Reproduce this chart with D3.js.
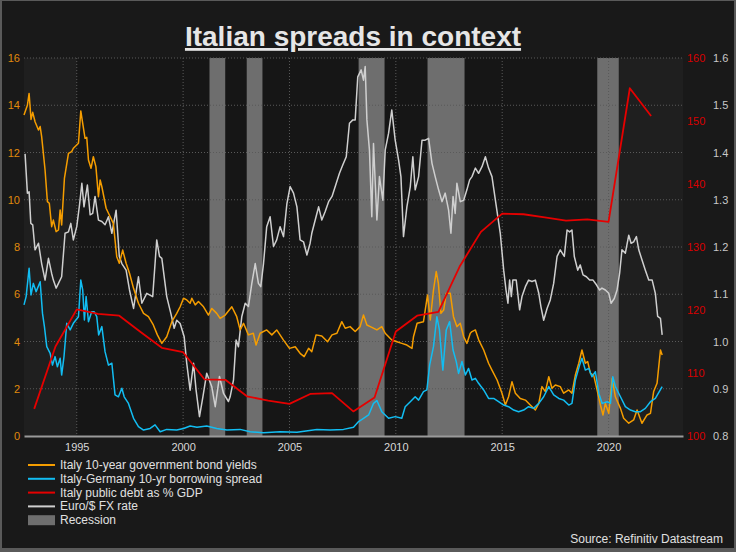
<!DOCTYPE html>
<html><head><meta charset="utf-8">
<script src="https://cdn.jsdelivr.net/npm/d3@7"></script>
<style>
html,body{margin:0;padding:0;background:#191919;}
svg{display:block;font-family:"Liberation Sans",Arial,sans-serif;}
</style></head>
<body><svg id="c" width="736" height="552"></svg>
<script>
// ---- DATA ----
const yearTicks = [1995, 2000, 2005, 2010, 2015, 2020];
const leftTicks = [0, 2, 4, 6, 8, 10, 12, 14, 16];
const debtTicks = [100, 110, 120, 130, 140, 150, 160];
const fxTicks = [0.8, 0.9, 1.0, 1.1, 1.2, 1.3, 1.4, 1.5, 1.6];
const recessions = [[2001.24, 2001.98], [2002.99, 2003.73], [2008.25, 2009.47], [2011.49, 2013.23], [2019.47, 2020.48]];

const yieldData = [[1992.52,13.59],[1992.68,14.0],[1992.76,14.5],[1992.85,13.4],[1992.93,13.7],[1993.04,13.3],[1993.2,12.95],[1993.28,13.1],[1993.35,12.67],[1993.51,11.26],[1993.62,9.92],[1993.71,9.85],[1993.82,8.86],[1993.9,9.14],[1994.03,8.65],[1994.14,8.72],[1994.22,9.57],[1994.29,8.93],[1994.42,10.9],[1994.61,11.96],[1994.76,12.04],[1994.84,12.18],[1995.08,12.39],[1995.19,13.76],[1995.28,13.23],[1995.39,12.6],[1995.47,12.64],[1995.55,11.68],[1995.67,11.33],[1995.78,11.82],[1995.9,11.4],[1996.02,10.13],[1996.1,10.84],[1996.18,10.55],[1996.38,9.64],[1996.57,9.28],[1996.72,9.0],[1996.88,7.59],[1997.0,7.31],[1997.16,7.87],[1997.32,7.31],[1997.48,6.89],[1997.67,6.25],[1997.9,5.62],[1998.14,5.19],[1998.37,5.05],[1998.6,4.7],[1998.79,4.28],[1999.0,3.92],[1999.23,4.2],[1999.47,4.84],[1999.7,5.19],[1999.86,5.47],[2000.02,5.83],[2000.17,5.76],[2000.33,5.62],[2000.41,5.83],[2000.57,5.55],[2000.72,5.69],[2000.96,5.47],[2001.19,5.12],[2001.35,5.4],[2001.58,5.19],[2001.74,4.98],[2001.98,5.12],[2002.29,5.47],[2002.52,5.05],[2002.68,4.49],[2002.84,4.77],[2003.07,4.28],[2003.3,4.35],[2003.43,3.85],[2003.62,4.35],[2003.93,4.49],[2004.17,4.28],[2004.4,4.49],[2004.72,4.06],[2005.0,3.71],[2005.27,3.78],[2005.5,3.5],[2005.69,3.36],[2005.9,3.71],[2006.05,3.57],[2006.25,4.28],[2006.52,4.23],[2006.79,3.99],[2007.0,4.28],[2007.23,4.35],[2007.46,4.84],[2007.62,4.56],[2007.85,4.63],[2008.09,4.42],[2008.32,4.63],[2008.48,5.12],[2008.64,4.7],[2008.8,4.63],[2009.11,4.49],[2009.34,4.63],[2009.5,4.35],[2009.81,4.06],[2010.05,3.99],[2010.28,3.92],[2010.52,3.85],[2010.76,3.71],[2010.83,4.2],[2011.0,4.77],[2011.3,4.84],[2011.49,5.97],[2011.62,4.91],[2011.77,6.18],[2011.9,6.96],[2012.0,6.46],[2012.12,5.19],[2012.25,5.33],[2012.37,6.04],[2012.56,6.04],[2012.71,5.05],[2012.87,4.63],[2013.03,4.77],[2013.19,4.2],[2013.34,3.92],[2013.5,4.35],[2013.58,4.42],[2013.74,4.49],[2013.9,4.06],[2014.13,3.64],[2014.36,3.08],[2014.52,2.79],[2014.76,2.37],[2014.99,1.81],[2015.15,1.31],[2015.3,1.66],[2015.46,2.3],[2015.62,1.81],[2015.85,1.59],[2016.09,1.52],[2016.32,1.31],[2016.56,1.1],[2016.72,1.38],[2016.87,2.09],[2017.03,1.88],[2017.19,2.51],[2017.34,2.02],[2017.5,2.16],[2017.73,2.09],[2017.89,1.81],[2018.13,1.95],[2018.28,1.81],[2018.44,2.58],[2018.6,3.08],[2018.75,3.64],[2018.91,3.08],[2019.02,3.15],[2019.15,2.65],[2019.3,2.58],[2019.46,1.95],[2019.62,1.31],[2019.74,0.89],[2019.85,1.38],[2020.01,0.96],[2020.17,2.44],[2020.32,1.66],[2020.56,1.17],[2020.71,0.75],[2020.95,0.54],[2021.18,0.68],[2021.34,1.1],[2021.57,0.54],[2021.81,0.89],[2021.97,0.96],[2022.12,1.88],[2022.28,2.23],[2022.44,3.64],[2022.52,3.43]];

const spreadData = [[1992.52,5.55],[1992.62,5.9],[1992.76,7.1],[1992.85,5.97],[1992.96,6.46],[1993.09,6.11],[1993.28,6.53],[1993.39,5.19],[1993.48,4.63],[1993.59,3.78],[1993.75,3.5],[1993.86,3.0],[1993.98,3.36],[1994.09,2.93],[1994.22,3.29],[1994.29,2.58],[1994.4,3.36],[1994.53,4.77],[1994.69,4.49],[1994.84,4.77],[1995.08,5.05],[1995.19,6.6],[1995.28,6.18],[1995.36,4.91],[1995.44,5.9],[1995.55,4.84],[1995.7,5.26],[1995.82,5.26],[1995.94,5.05],[1996.03,4.28],[1996.18,4.63],[1996.33,3.57],[1996.49,3.0],[1996.65,3.08],[1996.8,1.74],[1996.96,1.66],[1997.12,2.02],[1997.23,1.66],[1997.43,1.38],[1997.67,0.75],[1997.9,0.4],[1998.14,0.25],[1998.45,0.32],[1998.68,0.47],[1998.92,0.18],[1999.23,0.28],[1999.7,0.25],[2000.02,0.32],[2000.33,0.42],[2000.65,0.37],[2001.11,0.42],[2001.58,0.32],[2002.06,0.25],[2002.68,0.28],[2003.15,0.18],[2003.78,0.14],[2004.56,0.18],[2005.35,0.16],[2006.29,0.28],[2006.91,0.25],[2007.54,0.28],[2008.01,0.37],[2008.25,0.61],[2008.48,0.75],[2008.72,0.89],[2008.95,1.38],[2009.11,1.5],[2009.34,1.03],[2009.66,0.75],[2009.97,0.82],[2010.28,0.75],[2010.44,1.24],[2010.68,1.45],[2010.91,1.66],[2011.07,1.52],[2011.3,1.88],[2011.46,1.95],[2011.59,3.0],[2011.77,3.78],[2011.93,5.05],[2012.05,4.49],[2012.21,2.79],[2012.37,4.49],[2012.53,4.84],[2012.69,3.64],[2012.84,3.15],[2012.95,2.65],[2013.11,3.15],[2013.27,2.58],[2013.42,2.86],[2013.58,2.37],[2013.74,2.44],[2013.89,2.23],[2014.13,1.95],[2014.36,1.59],[2014.6,1.59],[2014.83,1.45],[2015.07,1.31],[2015.3,1.24],[2015.54,1.1],[2015.77,1.03],[2016.01,1.1],[2016.24,1.24],[2016.48,1.17],[2016.72,1.38],[2016.95,1.66],[2017.19,2.09],[2017.42,1.74],[2017.66,1.59],[2017.89,1.52],[2018.13,1.31],[2018.28,1.38],[2018.44,2.37],[2018.64,3.0],[2018.75,3.29],[2018.91,2.79],[2019.07,2.86],[2019.22,2.51],[2019.38,2.72],[2019.54,1.81],[2019.7,1.38],[2019.93,1.45],[2020.09,1.38],[2020.2,2.51],[2020.32,2.09],[2020.56,1.66],[2020.79,1.24],[2021.03,1.1],[2021.26,1.03],[2021.5,1.03],[2021.73,1.17],[2021.97,1.45],[2022.2,1.59],[2022.52,2.09]];

const debtData = [[1993,104.3],[1994,114.2],[1995,120.1],[1996,119.4],[1997,119.1],[1998,116.5],[1999,114.0],[2000,113.3],[2001,109.0],[2002,108.9],[2003,106.3],[2004,105.6],[2005,105.1],[2006,106.7],[2007,106.8],[2008,103.9],[2009,106.1],[2010,116.6],[2011,119.1],[2012,119.7],[2013,126.9],[2014,132.4],[2015,135.3],[2016,135.2],[2017,134.7],[2018,134.2],[2019,134.4],[2020,134.0],[2021,155.2],[2022,150.8]];

const fxData = [[1992.57,1.397],[1992.68,1.314],[1992.76,1.317],[1992.84,1.25],[1992.93,1.247],[1993.04,1.194],[1993.2,1.208],[1993.35,1.165],[1993.51,1.13],[1993.67,1.176],[1993.82,1.144],[1993.9,1.13],[1994.03,1.113],[1994.14,1.123],[1994.29,1.137],[1994.45,1.229],[1994.61,1.232],[1994.72,1.25],[1994.84,1.215],[1995.0,1.243],[1995.13,1.289],[1995.24,1.335],[1995.34,1.285],[1995.5,1.331],[1995.63,1.268],[1995.75,1.271],[1995.86,1.307],[1996.02,1.257],[1996.18,1.254],[1996.33,1.247],[1996.49,1.264],[1996.65,1.229],[1996.85,1.278],[1997.0,1.18],[1997.12,1.165],[1997.32,1.151],[1997.48,1.109],[1997.67,1.07],[1997.9,1.137],[1998.06,1.081],[1998.29,1.102],[1998.57,1.095],[1998.76,1.215],[1998.89,1.18],[1999.0,1.176],[1999.23,1.095],[1999.42,1.06],[1999.58,1.028],[1999.7,1.045],[1999.86,1.038],[2000.05,1.01],[2000.17,0.954],[2000.33,0.897],[2000.49,0.954],[2000.61,0.897],[2000.77,0.841],[2000.93,0.883],[2001.11,0.933],[2001.35,0.904],[2001.51,0.862],[2001.71,0.926],[2001.9,0.89],[2002.13,0.873],[2002.21,0.883],[2002.37,0.919],[2002.49,1.003],[2002.6,0.989],[2002.76,1.053],[2002.92,1.081],[2003.07,1.074],[2003.23,1.123],[2003.39,1.165],[2003.54,1.123],[2003.65,1.116],[2003.78,1.165],[2003.93,1.243],[2004.09,1.264],[2004.25,1.201],[2004.4,1.215],[2004.56,1.243],[2004.72,1.222],[2004.88,1.292],[2005.03,1.328],[2005.19,1.314],[2005.35,1.285],[2005.5,1.215],[2005.66,1.211],[2005.82,1.183],[2005.97,1.208],[2006.05,1.229],[2006.25,1.264],[2006.37,1.285],[2006.52,1.257],[2006.68,1.275],[2006.84,1.296],[2007.0,1.307],[2007.2,1.335],[2007.35,1.356],[2007.51,1.374],[2007.67,1.391],[2007.82,1.462],[2007.98,1.469],[2008.09,1.469],[2008.21,1.56],[2008.37,1.575],[2008.48,1.553],[2008.56,1.582],[2008.64,1.469],[2008.76,1.405],[2008.87,1.264],[2008.95,1.419],[2009.11,1.257],[2009.23,1.349],[2009.39,1.299],[2009.5,1.405],[2009.66,1.441],[2009.81,1.49],[2009.97,1.426],[2010.13,1.384],[2010.24,1.349],[2010.36,1.222],[2010.52,1.285],[2010.68,1.328],[2010.8,1.391],[2010.91,1.321],[2011.07,1.349],[2011.23,1.426],[2011.38,1.426],[2011.54,1.43],[2011.7,1.377],[2011.85,1.349],[2012.01,1.321],[2012.17,1.296],[2012.32,1.314],[2012.48,1.278],[2012.59,1.229],[2012.69,1.307],[2012.79,1.271],[2012.87,1.335],[2013.03,1.296],[2013.19,1.299],[2013.34,1.321],[2013.47,1.342],[2013.58,1.349],[2013.74,1.367],[2013.89,1.356],[2014.05,1.37],[2014.21,1.391],[2014.36,1.367],[2014.52,1.349],[2014.68,1.299],[2014.91,1.229],[2015.07,1.151],[2015.18,1.109],[2015.27,1.081],[2015.35,1.13],[2015.43,1.095],[2015.5,1.13],[2015.66,1.13],[2015.82,1.067],[2015.93,1.095],[2016.09,1.116],[2016.24,1.13],[2016.4,1.127],[2016.56,1.13],[2016.72,1.102],[2016.82,1.074],[2016.95,1.045],[2017.11,1.07],[2017.26,1.088],[2017.42,1.123],[2017.58,1.18],[2017.73,1.194],[2017.92,1.18],[2018.05,1.236],[2018.17,1.232],[2018.28,1.236],[2018.39,1.18],[2018.55,1.151],[2018.67,1.162],[2018.8,1.141],[2018.96,1.137],[2019.11,1.13],[2019.27,1.13],[2019.43,1.12],[2019.58,1.109],[2019.69,1.113],[2019.85,1.109],[2020.01,1.102],[2020.12,1.081],[2020.27,1.091],[2020.4,1.109],[2020.52,1.144],[2020.63,1.194],[2020.79,1.187],[2020.95,1.225],[2021.06,1.208],[2021.18,1.211],[2021.31,1.222],[2021.42,1.194],[2021.57,1.173],[2021.73,1.151],[2021.89,1.13],[2022.05,1.13],[2022.2,1.102],[2022.31,1.053],[2022.44,1.049],[2022.52,1.014]];

const seriesNames = ["Italy 10-year government bond yields", "Italy-Germany 10-yr borrowing spread", "Italy public debt as % GDP", "Euro/$ FX rate", "Recession"];

// ---- DRAW ----
const svg = d3.select("#c");
const W = 736, H = 552;
const plot = {l: 24, r: 683, t: 58, b: 436};

svg.append("rect").attr("x",0).attr("y",0).attr("width",W).attr("height",H).attr("fill","#5a5a5a");
svg.append("rect").attr("x",2).attr("y",1).attr("width",W-4).attr("height",H-5).attr("fill","#191919");

const x = d3.scaleLinear().domain([1992.52, 2023.5]).range([plot.l, plot.r]);
const yL = d3.scaleLinear().domain([0, 16]).range([plot.b, plot.t]);
const yD = d3.scaleLinear().domain([100, 160]).range([plot.b, plot.t]);
const yF = d3.scaleLinear().domain([0.8, 1.6]).range([plot.b, plot.t]);

// plot background
svg.append("rect").attr("x",plot.l).attr("y",plot.t).attr("width",plot.r-plot.l).attr("height",plot.b-plot.t).attr("fill","#1f1f1f");
svg.append("rect").attr("x",x(1995)).attr("y",plot.t).attr("width",x(2020)-x(1995)).attr("height",plot.b-plot.t).attr("fill","#161616");

// recession bands
svg.append("g").selectAll("rect").data(recessions).join("rect")
  .attr("x", d => x(d[0])).attr("y", plot.t)
  .attr("width", d => x(d[1]) - x(d[0])).attr("height", plot.b - plot.t)
  .attr("fill", "#6e6e6e");

// gridlines
svg.append("g").selectAll("line").data(leftTicks.filter(d => d > 0)).join("line")
  .attr("x1", plot.l).attr("x2", plot.r).attr("y1", d => yL(d)).attr("y2", d => yL(d))
  .attr("stroke", "#5a5a5a").attr("stroke-width", 1).attr("stroke-dasharray", "1,2");
svg.append("g").selectAll("line").data(yearTicks).join("line")
  .attr("x1", d => x(d)).attr("x2", d => x(d)).attr("y1", plot.t).attr("y2", plot.b)
  .attr("stroke", "#5a5a5a").attr("stroke-width", 1).attr("stroke-dasharray", "1,2");

// x axis
const xAxis = d3.axisBottom(x).tickValues(yearTicks).tickFormat(d3.format("d")).tickSize(0).tickPadding(7);
const gx = svg.append("g").attr("transform", `translate(0,${plot.b})`).call(xAxis);
gx.select(".domain").attr("stroke", "#9a9a9a").attr("stroke-width", 2);
gx.selectAll("text").attr("fill", "#d8d8d8").attr("font-size", 11).attr("font-family", "'Liberation Sans Narrow','Liberation Sans',Arial,sans-serif");

// left axis
const gl = svg.append("g").attr("transform", `translate(${plot.l},0)`).call(d3.axisLeft(yL).tickValues(leftTicks).tickSize(0).tickPadding(4));
gl.select(".domain").remove();
gl.selectAll("text").attr("fill", "#e08a0c").attr("font-size", 11);

// right axes
const gd = svg.append("g").attr("transform", `translate(${plot.r},0)`).call(d3.axisRight(yD).tickValues(debtTicks).tickSize(0).tickPadding(4));
gd.select(".domain").remove();
gd.selectAll("text").attr("fill", "#d80000").attr("font-size", 11);
const gf = svg.append("g").attr("transform", `translate(${plot.r + 26},0)`).call(d3.axisRight(yF).tickValues(fxTicks).tickFormat(d3.format(".1f")).tickSize(0).tickPadding(4));
gf.select(".domain").remove();
gf.selectAll("text").attr("fill", "#c8c8c8").attr("font-size", 11);

// lines
const lineL = d3.line().x(d => x(d[0])).y(d => yL(d[1]));
const lineD = d3.line().x(d => x(d[0])).y(d => yD(d[1]));
const lineF = d3.line().x(d => x(d[0])).y(d => yF(d[1]));
const colors = {yield: "#f59d00", spread: "#12bdf2", debt: "#e60000", fx: "#cfcfcf"};

svg.append("path").datum(fxData).attr("d", lineF).attr("fill","none").attr("stroke",colors.fx).attr("stroke-width",1.5).attr("stroke-linejoin","round");
svg.append("path").datum(yieldData).attr("d", lineL).attr("fill","none").attr("stroke",colors.yield).attr("stroke-width",1.5).attr("stroke-linejoin","round");
svg.append("path").datum(spreadData).attr("d", lineL).attr("fill","none").attr("stroke",colors.spread).attr("stroke-width",1.5).attr("stroke-linejoin","round");
svg.append("path").datum(debtData).attr("d", lineD).attr("fill","none").attr("stroke",colors.debt).attr("stroke-width",1.8).attr("stroke-linejoin","round");

// title
svg.append("text").attr("x", 353).attr("y", 46).attr("text-anchor","middle")
  .attr("font-size", 28).attr("font-weight","bold").attr("fill","#e6e6e6")
  .attr("text-decoration","underline").text("Italian spreads in context");

// legend
const legColors = [colors.yield, colors.spread, colors.debt, colors.fx];
const lg = svg.append("g");
seriesNames.forEach((name, i) => {
  const cy = 465 + i * 13.8;
  if (i < 4) {
    lg.append("line").attr("x1", 28).attr("x2", 55).attr("y1", cy).attr("y2", cy)
      .attr("stroke", legColors[i]).attr("stroke-width", 2);
  } else {
    lg.append("rect").attr("x", 28).attr("y", cy - 5).attr("width", 27).attr("height", 10).attr("fill", "#6e6e6e");
  }
  lg.append("text").attr("x", 60).attr("y", cy + 4).attr("font-size", 12).attr("fill", "#e0e0e0").text(name);
});

svg.append("text").attr("x", 723).attr("y", 543).attr("text-anchor","end")
  .attr("font-size", 12).attr("fill","#e0e0e0").text("Source: Refinitiv Datastream");
</script>
</body></html>
